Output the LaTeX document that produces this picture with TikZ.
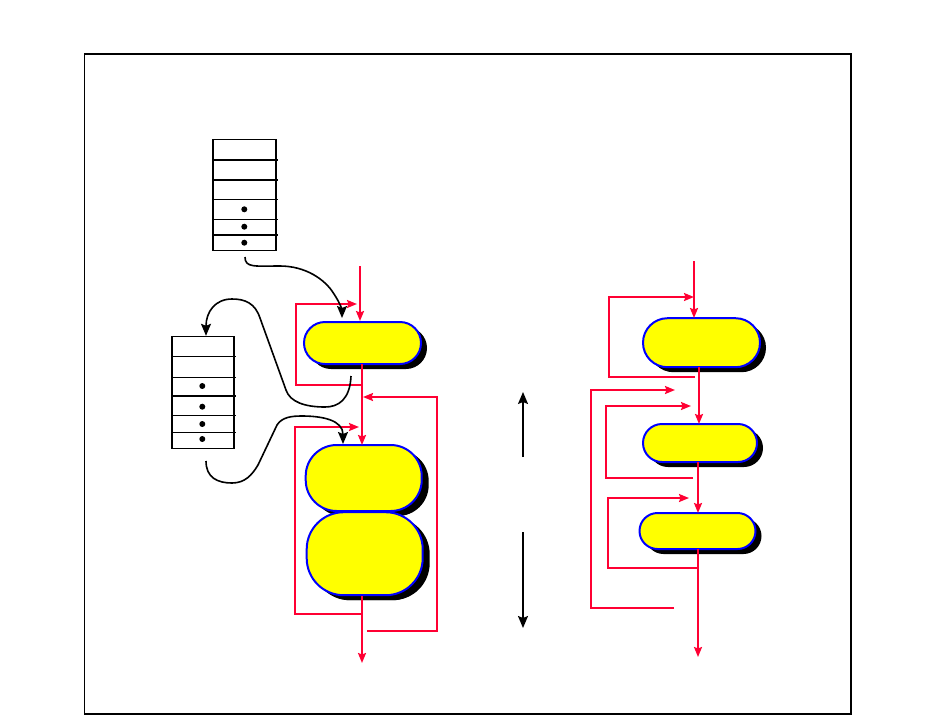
\documentclass[tikz,border=0pt]{standalone}
\usetikzlibrary{arrows.meta,shadows}
\definecolor{lred}{HTML}{FF0033}
\definecolor{lblue}{HTML}{0000FF}
\definecolor{lyel}{HTML}{FFFF00}
\begin{document}
\begin{tikzpicture}[x=1pt,y=-1pt,
  redline/.style={draw=lred,line width=1.9pt},
  redarr/.style={redline,-{Stealth[length=10pt,width=8pt,inset=1.5pt]}},
  blkarr/.style={draw=black,line width=1.6pt,-{Stealth[length=12pt,width=10pt,inset=2pt]}},
  stackbox/.style={draw=black,line width=1.4pt,inner sep=0pt},
  pill/.style={draw=lblue,fill=lyel,line width=2pt,inner sep=0pt,
    drop shadow={shadow xshift=6pt,shadow yshift=-5pt,fill=black,opacity=1}},
  dotmark/.style={circle,fill=black,inner sep=0pt,minimum size=6pt}
]
\useasboundingbox[fill=white] (0,0) rectangle (937,716);
\draw[line width=1.2pt] (84.5,54) rectangle (851,714);

% stack 1
\node[stackbox,minimum width=63pt,minimum height=111pt] (stackA) at (244.5,195) {};
\foreach \yy in {160,180,199.5,219.5,235} \draw[line width=1.4pt] (213,\yy) -- (278,\yy);
\node[dotmark] (sa1) at (244.3,209.3) {};
\node[dotmark] (sa2) at (244.3,226.7) {};
\node[dotmark] (sa3) at (244.3,242.7) {};

% stack 2
\node[stackbox,minimum width=62pt,minimum height=112pt] (stackB) at (203,392.5) {};
\foreach \yy in {356.7,377.3,396,415.7,432.3} \draw[line width=1.4pt] (171,\yy) -- (236,\yy);
\node[dotmark] (sb1) at (202.3,386) {};
\node[dotmark] (sb2) at (202.3,406.7) {};
\node[dotmark] (sb3) at (202.3,424) {};
\node[dotmark] (sb4) at (202.3,439) {};

% middle pills
\node[pill,rounded corners=21pt,minimum width=117pt,minimum height=42pt] (pA) at (362.5,343) {};
\node[pill,rounded corners=31pt,minimum width=116pt,minimum height=66pt,drop shadow={shadow xshift=7pt,shadow yshift=-5pt,fill=black,opacity=1}] (pB) at (363.7,478) {};
\node[pill,rounded corners=37pt,minimum width=116pt,minimum height=83pt,drop shadow={shadow xshift=7pt,shadow yshift=-5pt,fill=black,opacity=1}] (pC) at (364.7,553.7) {};

% right pills
\node[pill,rounded corners=24.5pt,minimum width=117pt,minimum height=49pt] (pD) at (701.5,342.7) {};
\node[pill,rounded corners=19pt,minimum width=114pt,minimum height=38pt] (pE) at (700,443) {};
\node[pill,rounded corners=18pt,minimum width=116pt,minimum height=36pt] (pF) at (697.5,531) {};

% middle red lines
\coordinate (mIn) at (360,266);
\draw[redarr] (mIn) -- (pA.north -| mIn);
\coordinate (aL1) at (362,385);
\draw[redarr] (aL1) -- (296,385) -- (296,304) -- (357,304);
\coordinate (aOut) at (362,364);
\draw[redarr] (aOut) -- (362,445);
\coordinate (bR1) at (367,631);
\draw[redarr] (bR1) -- (437,631) -- (437,397) -- (363,397);
\coordinate (bL1) at (361,614);
\draw[redarr] (bL1) -- (295,614) -- (295,427) -- (359,427);
\coordinate (cOut) at (362,596);
\coordinate (cEnd) at (362,663);
\draw[redarr] (cOut) -- (cEnd);

% black curves
\draw[blkarr] (245,257) .. controls (245,268) and (255,266) .. (280,266)
  .. controls (305,266) and (325,279) .. (334,294) .. controls (340,303) and (342,310) .. (342,318);
\draw[blkarr] (351,376) .. controls (350,400) and (338,407) .. (325,407)
  .. controls (305,407) and (290,402) .. (286,390) -- (260,318)
  .. controls (255,303) and (245,299) .. (232,299) .. controls (215,299) and (206,312) .. (stackB.north -| 206,0);
\draw[blkarr] (206,461) .. controls (206,478) and (218,483) .. (232,483)
  .. controls (245,483) and (252,475) .. (258,465) -- (277,425)
  .. controls (282,417) and (292,416) .. (302,416) .. controls (322,416) and (343,420) .. (343,444);

% vertical black arrows
\coordinate (up1) at (523,457);
\coordinate (up2) at (523,392);
\coordinate (dn1) at (523,532);
\coordinate (dn2) at (523,628);
\draw[blkarr,line width=1.4pt] (up1) -- (up2);
\draw[blkarr,line width=1.4pt] (dn1) -- (dn2);

% right red lines
\coordinate (rIn) at (694,261);
\draw[redarr] (rIn) -- (694,318);
\draw[redarr] (695,377) -- (609,377) -- (609,297) -- (694,297);
\draw[redarr] (699,367) -- (699,424);
\draw[redarr] (674,608) -- (591,608) -- (591,390) -- (675,390);
\draw[redarr] (693,478) -- (606,478) -- (606,406) -- (691,406);
\draw[redarr] (698,462) -- (698,513);
\draw[redarr] (698,568) -- (608,568) -- (608,498) -- (689,498);
\draw[redarr] (698,549) -- (698,657);
\end{tikzpicture}
\end{document}
